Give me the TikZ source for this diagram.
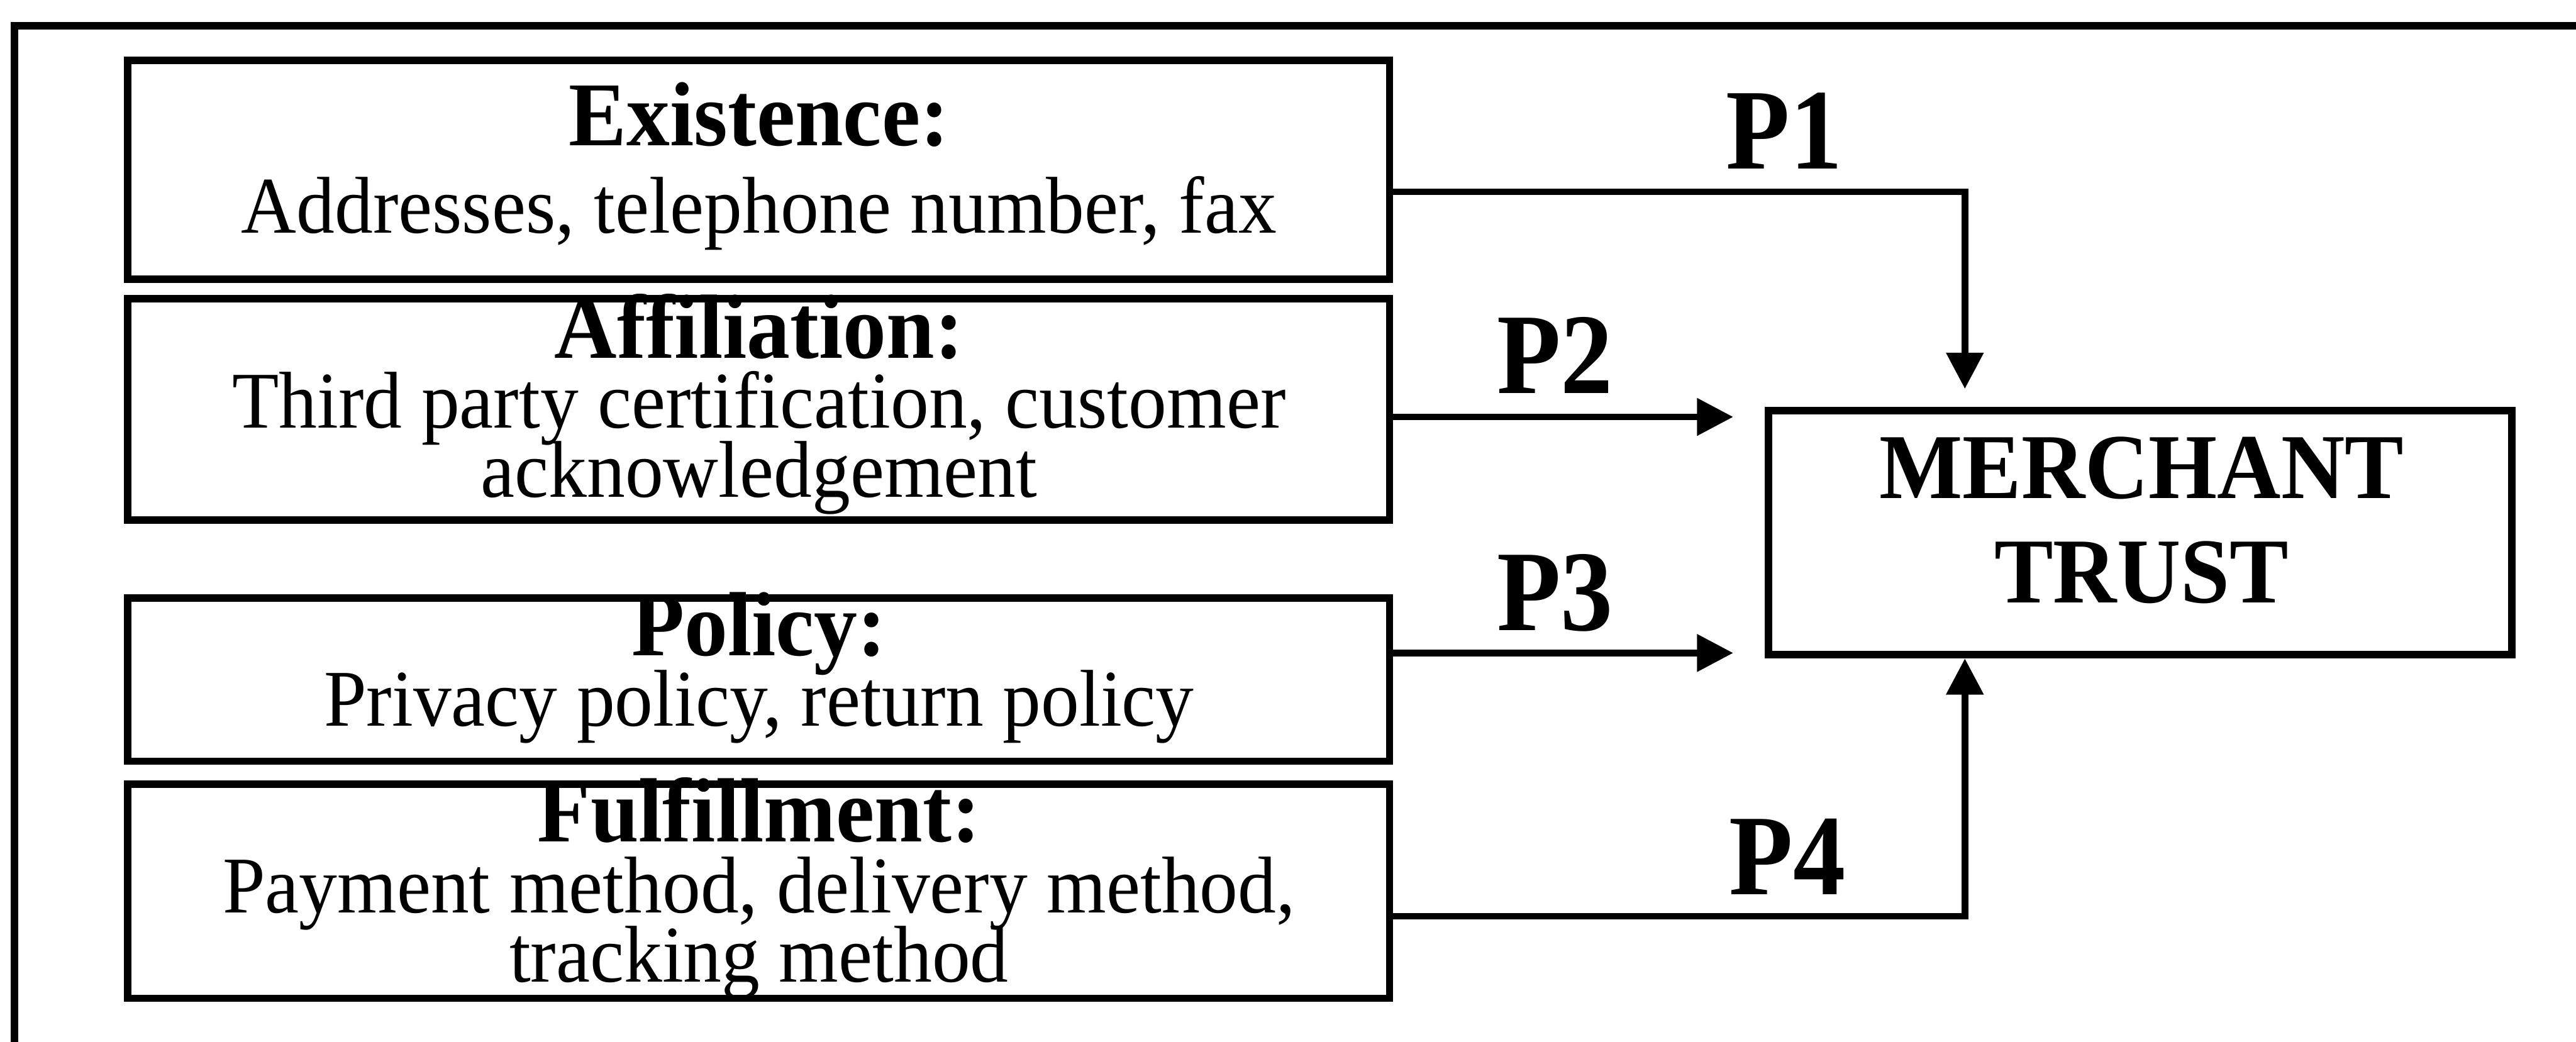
\documentclass[tikz,border=0pt]{standalone}
\usepackage{fontspec}
\setmainfont{Liberation Serif}
\newfontfamily\txtfont[FakeStretch=0.95]{Liberation Serif}
\newfontfamily\labfont[FakeStretch=0.91]{Liberation Serif}
\usetikzlibrary{arrows.meta}
\begin{document}
\begin{tikzpicture}[x=1pt,y=-1pt,
  frame/.style={line width=4.6pt,line join=miter},
  factor/.style={draw,line width=4.5pt,rectangle,minimum width=768pt,inner sep=0pt},
  trustbox/.style={draw,line width=4.5pt,rectangle,minimum width=452.5pt,minimum height=148.6pt,inner sep=0pt},
  head/.style={anchor=base,inner sep=0pt,text height=38pt,text depth=0pt,
    font=\txtfont\bfseries\fontsize{55.5}{55.5}\selectfont},
  body/.style={anchor=base,inner sep=0pt,text height=34pt,text depth=0pt,
    font=\txtfont\fontsize{49}{49}\selectfont},
  big/.style={anchor=base,inner sep=0pt,font=\txtfont\bfseries\fontsize{56.5}{56.5}\selectfont},
  plabel/.style={anchor=base,inner sep=0pt,font=\labfont\bfseries\fontsize{70}{70}\selectfont},
  arr/.style={line width=4pt,-{Triangle[length=22pt,width=22pt]}}]
\useasboundingbox (0,0) rectangle (1568,634);

% outer frame (top and left edges)
\draw[frame] (1590,15.8) -- (8.9,15.8) -- (8.9,660);

% factor boxes
\node[factor,minimum height=133.2pt] (ex) at (461.8,103.4) {};
\node[factor,minimum height=135pt]   (af) at (461.8,249.2) {};
\node[factor,minimum height=99.4pt]  (po) at (461.8,413.7) {};
\node[factor,minimum height=130.2pt] (fu) at (461.8,542.6) {};

% merchant trust box
\node[trustbox] (mt) at (1302.75,324.3) {};

% box texts
\node[head] (exh) at (462,88.6)  {Existence:};
\node[body] (ext) at (462,142)   {Addresses, telephone number, fax};
\node[head] (afh) at (462,218)   {Affiliation:};
\node[body] (aft1) at (462,260.6) {Third party certification, customer};
\node[body] (aft2) at (462,302.7) {acknowledgement};
\node[head] (poh) at (462,399)   {Policy:};
\node[body] (pot) at (462,441.8) {Privacy policy, return policy};
\node[head] (fuh) at (462,512.5) {Fulfillment:};
\node[body] (fut1) at (462,555.8) {Payment method, delivery method,};
\node[body] (fut2) at (462,597.8) {tracking method};
\node[big] (mt1) at (1303.5,303.3) {MERCHANT};
\node[big] (mt2) at (1303.5,367)   {TRUST};

% connector bends and free ends
\coordinate (k1) at (1196,116.8);
\coordinate (t1) at (1196,236.7);
\coordinate (t2) at (1055,253.8);
\coordinate (t3) at (1055,397.5);
\coordinate (k4) at (1196,557.8);

\draw[arr] (ex.east |- k1) -- (k1) -- (t1);
\draw[arr] (af.east |- t2) -- (t2);
\draw[arr] (po.east |- t3) -- (t3);
\draw[arr] (fu.east |- k4) -- (k4) -- (mt.south -| k4);

% path labels
\node[plabel] (l1) at (1086,102.8) {P1};
\node[plabel] (l2) at (946.5,239.6) {P2};
\node[plabel] (l3) at (946.5,383.6) {P3};
\node[plabel] (l4) at (1088,544.5) {P4};
\end{tikzpicture}
\end{document}
